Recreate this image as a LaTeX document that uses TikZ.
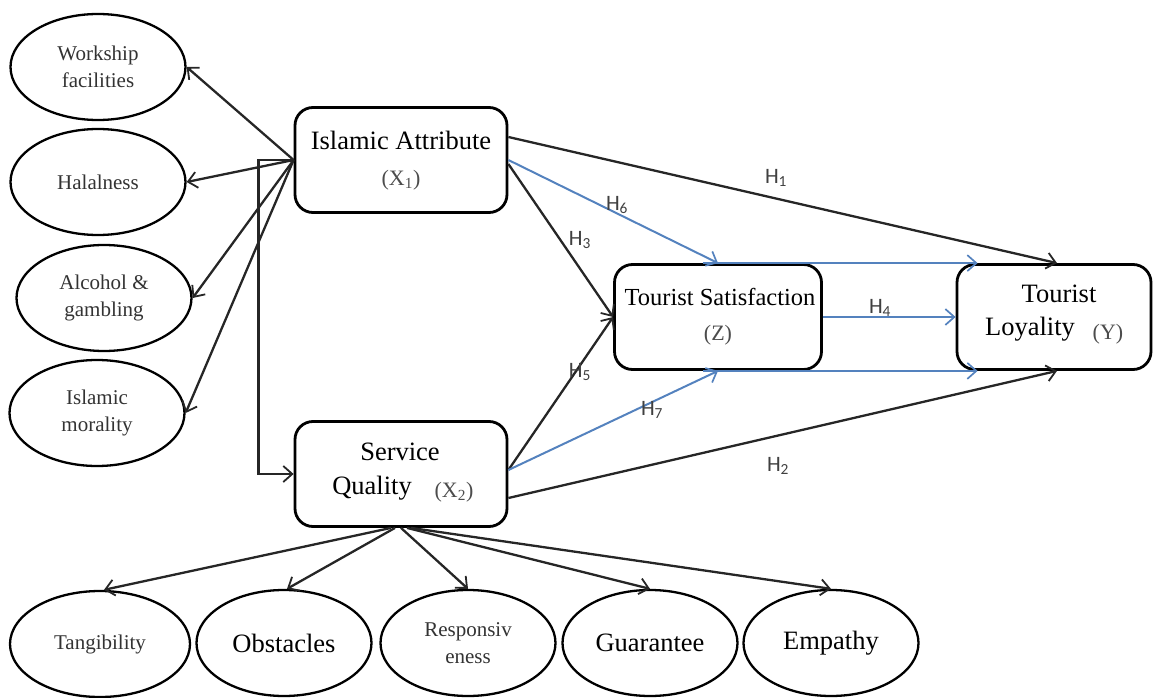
\documentclass[tikz,border=0pt]{standalone}
\usepackage{fontspec}
\setmainfont{Liberation Serif}
\newfontfamily\hfont{Carlito}
\usetikzlibrary{arrows.meta,shapes.geometric,calc}
\definecolor{hblue}{RGB}{84,130,190}
\newcommand{\bigf}{\fontsize{26.5}{30}\selectfont}
\newcommand{\midf}{\fontsize{22}{25}\selectfont}
\newcommand{\smallf}{\fontsize{21}{27}\selectfont}
\begin{document}
\begin{tikzpicture}[x=1pt,y=-1pt,
  box/.style={draw, line width=2.8pt, rounded corners=18pt, minimum width=212pt, minimum height=105pt, inner sep=0pt},
  ell/.style={draw, ellipse, line width=2.3pt, minimum width=175pt, minimum height=106pt, inner sep=0pt, align=center, font=\smallf, text=black!80},
  arr/.style={-{Straight Barb[length=9pt,width=16pt,line width=1.8pt]}, line width=2.3pt, black!85},
  barr/.style={-{Straight Barb[length=9pt,width=16pt,line width=1.7pt]}, line width=2pt, hblue},
  hl/.style={font=\hfont\fontsize{22}{24}\selectfont, text=black!75},
  txt/.style={font=\bigf},
  sub/.style={font=\midf, text=black!70}
]
\useasboundingbox (0,0) rectangle (1157,698);

% main boxes
\node[box] (ia) at (401,160) {};
\node[txt] (iat) at (401,140) {Islamic Attribute};
\node[sub] (iax) at (401,180) {(X\textsubscript{1})};

\node[box] (sq) at (401,474) {};
\node[txt] (sqt1) at (400,452) {Service};
\node[txt] (sqt2) at (372,488) {Quality};
\node[sub] (sqx) at (454,492) {(X\textsubscript{2})};

\node[box, minimum width=207pt] (ts) at (718,317) {};
\node[txt, font=\fontsize{24.5}{28}\selectfont] (tst) at (720,297) {Tourist Satisfaction};
\node[sub] (tsz) at (718,335) {(Z)};

\node[box, minimum width=194pt] (tl) at (1054,317) {};
\node[txt] (tlt1) at (1059,294) {Tourist};
\node[txt] (tlt2) at (1030,329) {Loyality};
\node[sub] (tly) at (1108,334) {(Y)};

% left ellipses
\node[ell] (wf) at (98,67) {Workship\\facilities};
\node[ell] (hal) at (98,182) {Halalness};
\node[ell] (alc) at (104,298) {Alcohol \&\\gambling};
\node[ell] (mor) at (97,413) {Islamic\\morality};

% bottom ellipses
\node[ell, minimum width=180pt] (tan) at (100,644) {Tangibility};
\node[ell, font=\bigf, text=black] (obs) at (284,643) {Obstacles};
\node[ell] (res) at (468,643) {Responsiv\\eness};
\node[ell, font=\bigf, text=black] (gua) at (650,643) {Guarantee};
\node[ell, font=\bigf, text=black] (emp) at (831,643) {Empathy};

% left connectors
\draw[arr] (ia.west) -- (wf.east);
\draw[arr] (ia.west) -- (hal.east);
\draw[arr] (ia.west) -- (alc.east);
\draw[arr] (ia.west) -- (mor.east);
\draw[arr] (ia.west) -- ++(-35,0) |- (sq.west);

% bottom connectors
\draw[arr] ($(sq.south)+(-10,0)$) -- ($(tan.north)+(4,0)$);
\draw[arr] ($(sq.south)+(-6,0)$) -- ($(obs.north)+(3,0)$);
\draw[arr] (sq.south) -- (res.north);
\draw[arr] ($(sq.south)+(6,0)$) -- (gua.north);
\draw[arr] ($(sq.south)+(10,0)$) -- (emp.north);

% hypotheses
\draw[arr] ($(ia.east)+(0,-23)$) -- ($(tl.north)+(3,0)$);
\node[hl] (h1) at (776,178) {H\textsubscript{1}};
\draw[barr] (ia.east) -- (ts.north);
\node[hl] (h6) at (617,205) {H\textsubscript{6}};
\draw[arr] ($(ia.east)+(0,4)$) -- (ts.west);
\node[hl] (h3) at (580,240) {H\textsubscript{3}};
\draw[arr] ($(sq.east)+(0,-4)$) -- (ts.west);
\node[hl] (h5) at (580,372) {H\textsubscript{5}};
\draw[barr] ($(sq.east)+(0,-4)$) -- (ts.south);
\node[hl] (h7) at (652,410) {H\textsubscript{7}};
\draw[arr] ($(sq.east)+(0,24)$) -- ($(tl.south)+(3,0)$);
\node[hl] (h2) at (778,466) {H\textsubscript{2}};
\draw[barr] (ts.east) -- (tl.west);
\node[hl] (h4) at (880,308) {H\textsubscript{4}};
\draw[barr] ($(ts.north)+(-15,0)$) -- ($(tl.north west)+(22,0)$);
\draw[barr] ($(ts.south)+(-15,0)$) -- ($(tl.south west)+(22,0)$);
\end{tikzpicture}
\end{document}
